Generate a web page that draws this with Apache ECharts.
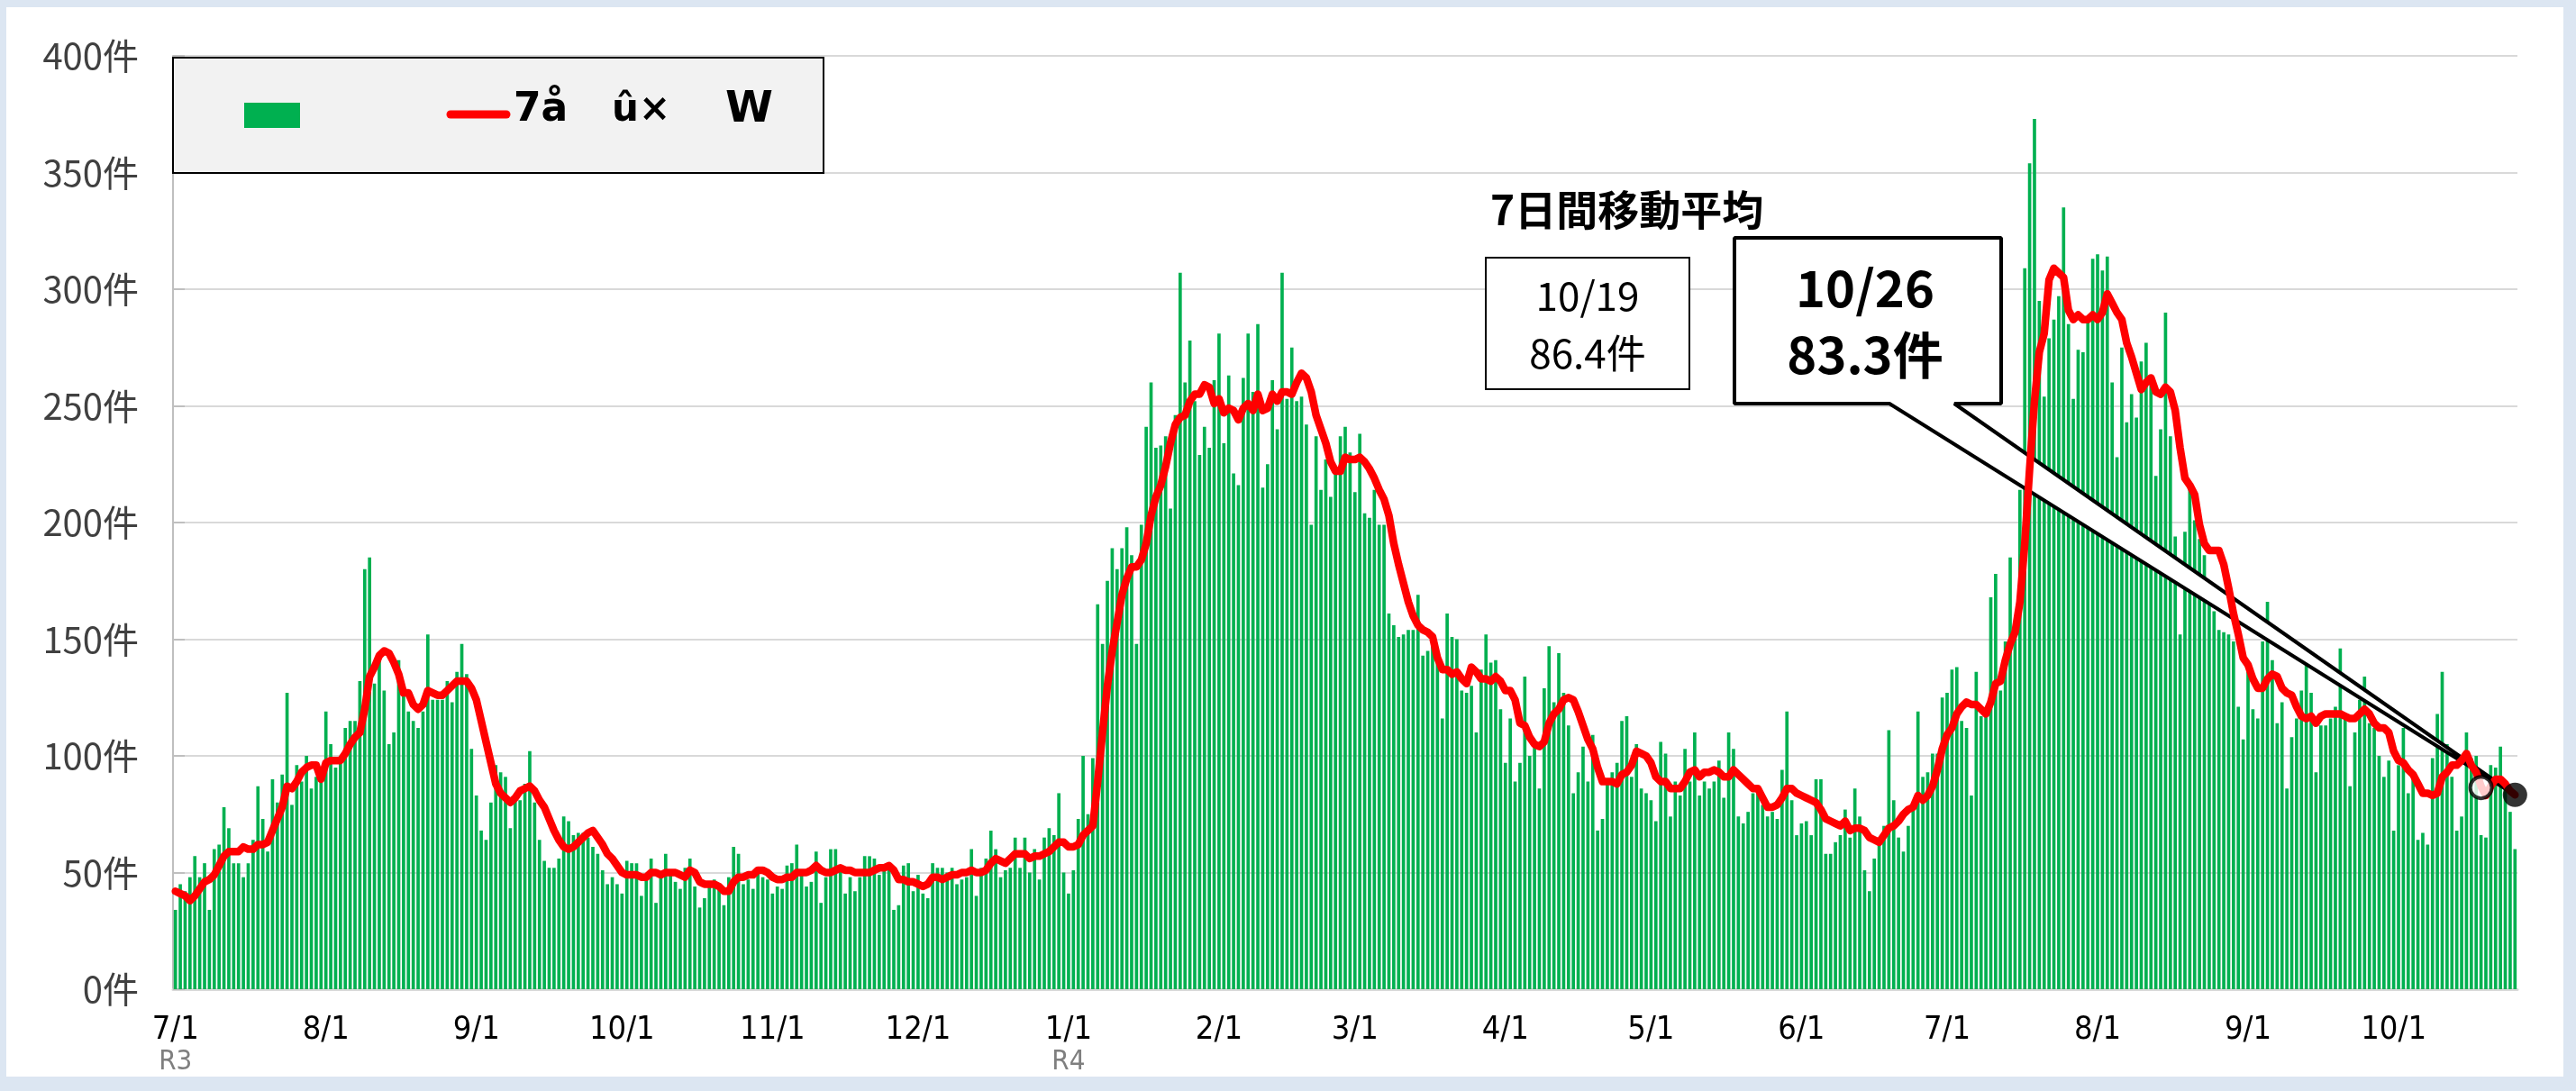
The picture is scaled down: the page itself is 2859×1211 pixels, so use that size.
<!DOCTYPE html>
<html>
<head>
<meta charset="utf-8">
<title>新規陽性者数と7日間移動平均</title>
<script src="https://cdn.jsdelivr.net/npm/echarts@6/dist/echarts.min.js"></script>
<style>
  html, body { margin: 0; padding: 0; background: #dce6f2; }
  #chart { position: absolute; left: 7px; top: 8px; width: 2838px; height: 1187px; background: #fff; }
</style>
</head>
<body>
<div id="chart"></div>
<script>
// daily counts (bars) in chunks of about 69 days
const bars_0701_0907 = [34,45,42,48,57,48,54,34,60,62, 78,69,54,54,48,54,64,87,73,59, 90,80,92,127,79,96,89,100,86,91,
  92,119,105,95,100,112,115,115,132,180, 185,131,141,128,105,110,141,127,119,115, 112,119,152,124,124,124,132,123,136,148,
  135,103,83,68,64,80,96,93,91];
const bars_0908_1115 = [69,81,81,88,102,80,64,55,52,52, 56,74,72,66,67,67,65,61,58,51, 45,48,45,41,55,54,54,40,48,56,
  37,50,58,51,46,43,52,56,44,35, 39,44,47,43,36,48,61,58,45,47, 43,50,48,47,41,44,43,53,54,62,
  49,44,46,59,37,48,60,60,51];
const bars_1116_0123 = [41,48,42,48,57,57,56,49,52,53, 34,36,53,54,42,49,41,39,54,52, 52,50,52,45,47,48,60,40,52,56,
  68,60,48,51,52,65,52,65,50,60, 47,65,69,66,84,50,41,51,73,100, 75,99,165,148,175,189,180,189,198,186,
  148,199,241,260,232,233,237,206,246];
const bars_0124_0402 = [307,260,278,252,229,241,232,261,281,234, 263,221,216,262,281,256,285,215,225,261, 240,307,253,275,252,254,242,199,237,214,
  227,211,222,237,241,230,213,238,204,202, 214,199,199,161,156,151,152,154,154,169, 143,145,148,140,116,161,151,150,128,127,
  130,110,137,152,140,141,120,97,116];
const bars_0403_0610 = [89,97,134,100,104,86,129,147,123,144, 127,113,84,93,104,89,109,68,73,88, 93,97,115,117,91,105,86,84,81,72,
  106,101,74,89,83,103,89,110,83,89, 86,89,98,82,110,103,74,71,76,84, 87,79,74,76,73,94,119,81,66,71,
  72,66,90,90,58,58,63,66,77];
const bars_0611_0818 = [65,86,74,51,42,56,63,70,111,81, 65,59,70,77,119,91,93,101,101,125, 127,137,138,115,112,83,136,117,118,168,
  178,128,149,185,155,214,309,354,373,295, 254,279,287,297,335,285,253,274,273,286, 313,315,308,314,260,228,275,243,255,245,
  269,277,261,220,240,290,237,194,152];
const bars_0819_1026 = [196,216,201,193,186,170,162,154,153,152, 149,121,107,136,120,116,149,166,141,114, 123,86,108,116,128,139,127,93,113,113,
  116,121,146,116,87,110,124,134,114,112, 100,91,98,68,96,112,84,92,64,67, 62,99,118,136,105,91,68,74,110,99,
  100,66,65,96,95,104,88,76,60];

// 7-day moving average (red line) for the same days
const avg7_0701_0907 = [42,41,40,38,40,43,46,47,49,53, 57,59,59,59,61,60,60,62,62,63, 68,73,78,87,86,89,93,95,96,96,
  90,97,98,98,98,101,105,108,110,120, 134,138,143,145,144,140,135,127,127,122, 120,122,128,127,126,126,128,130,132,132,
  132,129,124,115,106,97,88,84,82];
const avg7_0908_1115 = [80,82,85,86,87,85,81,78,73,68, 64,61,60,61,63,65,67,68,65,62, 58,56,53,50,49,49,49,48,48,50,
  50,49,50,50,50,49,48,51,50,46, 45,45,45,44,42,42,46,48,48,49, 49,51,51,50,48,47,47,48,48,50,
  50,50,51,53,51,50,50,51,52];
const avg7_1116_0123 = [51,51,50,50,50,50,51,52,52,53, 51,47,47,46,46,45,44,45,48,48, 47,48,49,49,50,50,51,50,50,51,
  54,56,55,54,56,58,58,58,56,57, 57,58,59,61,63,63,61,61,62,66, 68,70,89,110,130,145,157,169,176,181,
  181,184,191,203,211,216,224,234,242];
const avg7_0124_0402 = [245,246,252,255,255,259,258,251,253,247, 249,248,244,249,251,248,255,248,249,255, 252,256,256,255,260,264,262,256,246,240,
  234,226,222,222,228,227,227,228,226,223, 219,214,210,203,191,182,174,166,160,156, 154,153,151,142,137,137,135,136,133,131,
  138,136,133,133,132,134,132,128,128];
const avg7_0403_0610 = [124,114,113,108,105,104,106,114,118,120, 124,125,124,119,113,107,103,95,89,89, 89,88,92,93,96,102,101,100,97,91,
  89,89,86,86,86,89,93,94,91,93, 93,94,93,91,91,94,92,90,88,86, 86,82,78,78,79,82,86,86,84,83,
  82,81,80,77,73,72,71,70,72];
const avg7_0611_0818 = [68,69,69,68,65,64,63,66,69,70, 72,75,77,78,83,81,83,87,94,103, 109,112,118,121,123,122,122,120,118,123,
  131,132,141,148,153,166,191,223,252,273, 281,304,309,307,305,291,287,289,287,287, 289,287,290,298,294,290,287,277,271,264,
  257,260,262,256,255,258,256,248,232];
const avg7_0819_1026 = [219,216,212,199,191,188,188,188,182,172, 161,152,142,139,133,129,129,133,135,134, 129,127,126,121,117,116,117,114,117,118,
  118,118,118,117,116,116,118,120,118,114, 112,112,110,102,98,97,94,92,88,84, 84,83,84,91,93,96,96,98,101,96,
  93,87,83,87,90,90,88,85,83.3];

const eraLabels = { '2021/7/1': 'R3', '2022/1/1': 'R4' };
const markerDates = ['2022/10/19', '2022/10/26'];
const markerValues = [86.4, 83.3];
const legendWords = ['7å', 'û×', 'W'];
const avgTitle = '7日間移動平均';

const cases = [].concat(bars_0701_0907, bars_0908_1115, bars_1116_0123, bars_0124_0402,
  bars_0403_0610, bars_0611_0818, bars_0819_1026);
const avg7 = [].concat(avg7_0701_0907, avg7_0908_1115, avg7_1116_0123, avg7_0124_0402,
  avg7_0403_0610, avg7_0611_0818, avg7_0819_1026);

// one category per day from 2021/7/1
const days = [];
for (let i = 0; i < cases.length; i++) {
  const d = new Date(2021, 6, 1 + i);
  days.push(d.getFullYear() + '/' + (d.getMonth() + 1) + '/' + d.getDate());
}

const narrow = "'Liberation Sans Narrow', 'DejaVu Sans Condensed', sans-serif";
const jp = "'Noto Sans CJK JP', sans-serif";

const chart = echarts.init(document.getElementById('chart'));

const option = {
  animation: false,
  grid: { left: 185, right: 51, top: 54, bottom: 97, containLabel: false, outerBoundsMode: 'none' },
  xAxis: {
    type: 'category',
    data: days,
    axisLine: { lineStyle: { color: '#d9d9d9', width: 3 } },
    axisTick: { show: false },
    splitLine: { show: false },
    axisLabel: {
      interval: (idx, val) => val.split('/')[2] === '1',
      hideOverlap: false,
      margin: 28,
      formatter: val => {
        const p = val.split('/');
        let s = '{d|' + p[1] + '/' + p[2] + '}';
        if (eraLabels[val]) s += '\n{r|' + eraLabels[val] + '}';
        return s;
      },
      rich: {
        d: { fontFamily: narrow, fontSize: 36, color: '#000', lineHeight: 36 },
        r: { fontFamily: narrow, fontSize: 31, color: '#7f7f7f', lineHeight: 34 }
      }
    }
  },
  yAxis: {
    type: 'value',
    min: 0, max: 400, interval: 50,
    axisLine: { show: true, lineStyle: { color: '#bfbfbf', width: 2 } },
    axisTick: { show: true, inside: true, length: 13, lineStyle: { color: '#bfbfbf', width: 2 } },
    splitLine: { lineStyle: { color: '#d9d9d9', width: 2 } },
    axisLabel: { formatter: '{value}件', fontFamily: jp, fontSize: 40, color: '#404040', margin: 38 }
  },
  series: [
    {
      name: '新規陽性者数',
      type: 'bar',
      data: cases,
      barWidth: '68%',
      itemStyle: { color: '#00b050' },
      z: 2
    },
    {
      name: avgTitle,
      type: 'line',
      data: avg7,
      symbol: 'none',
      lineStyle: { color: '#ff0000', width: 8.5, cap: 'round', join: 'round' },
      z: 4
    },
    {
      type: 'scatter',
      data: [
        { value: [markerDates[0], markerValues[0]], symbolSize: 24,
          itemStyle: { color: '#fff', borderColor: '#000', borderWidth: 4 } },
        { value: [markerDates[1], markerValues[1]], symbolSize: 27,
          itemStyle: { color: '#000' } }
      ],
      z: 6
    }
  ]
};
chart.setOption(option);

// callout tail points at the last moving-average value
const tip = chart.convertToPixel({ xAxisIndex: 0, yAxisIndex: 0 },
  [days.indexOf(markerDates[1]), markerValues[1]]);
const bx0 = 1918, by0 = 256, bx1 = 2214, by1 = 440;

function fmtDate(s) { const p = s.split('/'); return p[1] + '/' + p[2]; }

chart.setOption({
  graphic: [
    // legend box
    { type: 'rect', z: 5, shape: { x: 185, y: 56, width: 722, height: 128 },
      style: { fill: '#f2f2f2', stroke: '#000', lineWidth: 2 } },
    { type: 'rect', z: 6, shape: { x: 264, y: 106, width: 62, height: 28 },
      style: { fill: '#00b050' } },
    { type: 'line', z: 6, shape: { x1: 493, y1: 119, x2: 555, y2: 119 },
      style: { stroke: '#ff0000', lineWidth: 9, lineCap: 'round' } },
    { type: 'text', z: 6, x: 563, y: 115,
      style: { text: legendWords[0], font: "bold 44px 'DejaVu Sans'", fill: '#000', verticalAlign: 'middle' } },
    { type: 'text', z: 6, x: 672, y: 115,
      style: { text: legendWords[1], font: "bold 42px 'DejaVu Sans'", fill: '#000', verticalAlign: 'middle' } },
    { type: 'text', z: 6, x: 798, y: 115,
      style: { text: legendWords[2], font: "bold 48px 'DejaVu Sans'", fill: '#000', verticalAlign: 'middle' } },

    // heading
    { type: 'text', z: 6, x: 1647, y: 225,
      style: { text: avgTitle, font: "bold 46px 'Noto Sans CJK JP'", fill: '#000', verticalAlign: 'middle' } },

    // 10/19 box
    { type: 'rect', z: 5, shape: { x: 1642, y: 278, width: 226, height: 146 },
      style: { fill: '#fff', stroke: '#000', lineWidth: 2 } },
    { type: 'text', z: 6, x: 1755, y: 320,
      style: { text: fmtDate(markerDates[0]), font: "44px 'Noto Sans CJK JP'", fill: '#000', align: 'center', verticalAlign: 'middle' } },
    { type: 'text', z: 6, x: 1755, y: 384,
      style: { text: markerValues[0].toFixed(1) + '件', font: "44px 'Noto Sans CJK JP'", fill: '#000', align: 'center', verticalAlign: 'middle' } },

    // 10/26 callout with tail
    { type: 'polygon', z: 3,
      shape: { points: [[bx0, by0], [bx1, by0], [bx1, by1], [2162, by1], tip, [2090, by1], [bx0, by1]] },
      style: { fill: '#fff', stroke: '#000', lineWidth: 4, lineJoin: 'bevel' } },
    { type: 'text', z: 6, x: 2063, y: 312,
      style: { text: fmtDate(markerDates[1]), font: "bold 56px 'Noto Sans CJK JP'", fill: '#000', align: 'center', verticalAlign: 'middle' } },
    { type: 'text', z: 6, x: 2063, y: 386,
      style: { text: markerValues[1].toFixed(1) + '件', font: "bold 56px 'Noto Sans CJK JP'", fill: '#000', align: 'center', verticalAlign: 'middle' } }
  ]
});
</script>
</body>
</html>
